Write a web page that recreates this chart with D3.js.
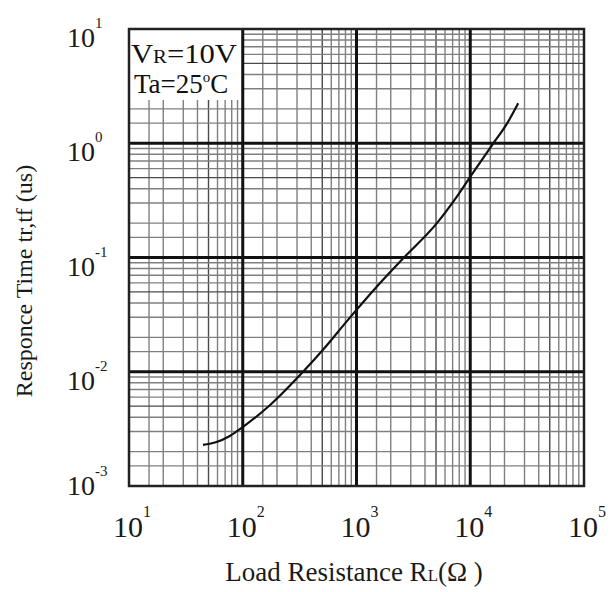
<!DOCTYPE html>
<html>
<head>
<meta charset="utf-8">
<script src="https://cdn.jsdelivr.net/npm/d3@7"></script>
<style>
  html, body { margin: 0; padding: 0; background: #fff; }
  svg { display: block; font-family: "Liberation Serif", "DejaVu Serif", serif; }
</style>
</head>
<body>
<div id="chart"></div>
<script>
// load resistance (ohm) vs response time tr,tf (us)
const loadRes = [44.7, 57, 77, 100, 174, 339, 528, 820, 1506, 2576, 5070, 7600, 10300, 15960, 20900, 26400]
const respTime = [0.00229, 0.00240, 0.00274, 0.00328, 0.00512, 0.0100, 0.0163, 0.0276, 0.0555, 0.0984, 0.199, 0.340, 0.532, 1.0, 1.47, 2.24]

const xDecades = [1, 2, 3, 4, 5]
const yDecades = [-3, -2, -1, 0, 1]
const minorSteps = [1.5, 2, 3, 4, 5, 6, 7, 8, 9]

const width = 614, height = 592
const pLeft = 129, pRight = 584, pTop = 29, pBottom = 486

const svg = d3.select("#chart").append("svg")
    .attr("width", width)
    .attr("height", height)

const x = d3.scaleLog().domain([10, 1e5]).range([pLeft, pRight])
const y = d3.scaleLog().domain([1e-3, 10]).range([pBottom, pTop])

const isFive = d => Math.abs(d / Math.pow(10, Math.floor(Math.log10(d) + 1e-9)) - 5) < 1e-6

// minor grid
const xMinor = [], yMinor = []
xDecades.slice(0, -1).forEach(d => minorSteps.forEach(s => xMinor.push(s * Math.pow(10, d))))
yDecades.slice(0, -1).forEach(d => minorSteps.forEach(s => yMinor.push(s * Math.pow(10, d))))

const grid = svg.append("g")
grid.selectAll(".vx").data(xMinor).enter().append("line")
    .attr("x1", d => x(d)).attr("x2", d => x(d))
    .attr("y1", pTop).attr("y2", pBottom)
    .attr("stroke", d => isFive(d) ? "#4a4a4a" : "#808080")
    .attr("stroke-width", 1.4)
grid.selectAll(".hy").data(yMinor).enter().append("line")
    .attr("y1", d => y(d)).attr("y2", d => y(d))
    .attr("x1", pLeft).attr("x2", pRight)
    .attr("stroke", d => isFive(d) ? "#4a4a4a" : "#808080")
    .attr("stroke-width", 1.4)

// white box behind conditions text
svg.append("rect")
    .attr("x", pLeft).attr("y", pTop)
    .attr("width", x(100) - pLeft).attr("height", 71)
    .attr("fill", "#fff")

// major grid
const xMajor = xDecades.slice(1, -1).map(d => Math.pow(10, d))
const yMajor = yDecades.slice(1, -1).map(d => Math.pow(10, d))
svg.selectAll(".mx").data(xMajor).enter().append("line")
    .attr("x1", d => x(d)).attr("x2", d => x(d))
    .attr("y1", pTop).attr("y2", pBottom)
    .attr("stroke", "#111").attr("stroke-width", 3)
svg.selectAll(".my").data(yMajor).enter().append("line")
    .attr("y1", d => y(d)).attr("y2", d => y(d))
    .attr("x1", pLeft).attr("x2", pRight)
    .attr("stroke", "#111").attr("stroke-width", 3)

// frame
svg.append("rect")
    .attr("x", pLeft).attr("y", pTop)
    .attr("width", pRight - pLeft).attr("height", pBottom - pTop)
    .attr("fill", "none").attr("stroke", "#222").attr("stroke-width", 2.5)

// curve
const line = d3.line()
    .x((d, i) => x(loadRes[i]))
    .y((d, i) => y(respTime[i]))
    .curve(d3.curveMonotoneX)
svg.append("path")
    .datum(loadRes)
    .attr("d", line)
    .attr("fill", "none")
    .attr("stroke", "#111")
    .attr("stroke-width", 2.2)

// conditions
const cond1 = svg.append("text").attr("x", 131).attr("y", 63).attr("font-size", 28).attr("fill", "#111")
    .attr("textLength", 106).attr("lengthAdjust", "spacingAndGlyphs")
cond1.append("tspan").text("V")
cond1.append("tspan").attr("font-size", 19).text("R")
cond1.append("tspan").text("=10V")
const cond2 = svg.append("text").attr("x", 134).attr("y", 93).attr("font-size", 27).attr("fill", "#111")
cond2.append("tspan").text("Ta=25")
cond2.append("tspan").attr("font-size", 15).attr("dy", -11).text("o")
cond2.append("tspan").attr("dy", 11).text("C")

// x tick labels
xDecades.forEach(d => {
    const t = svg.append("text")
        .attr("x", x(Math.pow(10, d)) - 16).attr("y", 537)
        .attr("font-size", 30).attr("fill", "#1a1a1a")
    t.append("tspan").text("10")
    t.append("tspan").attr("font-size", 16).attr("dy", -20).text(d)
})

// y tick labels
yDecades.forEach(d => {
    const off = d === -3 ? 9 : 18
    const t = svg.append("text")
        .attr("x", 67).attr("y", y(Math.pow(10, d)) + off)
        .attr("font-size", 28).attr("fill", "#1a1a1a")
    t.append("tspan").text("10")
    t.append("tspan").attr("font-size", 15).attr("dy", -19).text(d < 0 ? "-" + (-d) : d)
})

// axis titles
svg.append("text")
    .attr("transform", "translate(32," + 281 + ") rotate(-90)")
    .attr("text-anchor", "middle")
    .attr("font-size", 24).attr("fill", "#1a1a1a")
    .text("Responce Time tr,tf (us)")

const xt = svg.append("text")
    .attr("x", 354).attr("y", 581)
    .attr("text-anchor", "middle")
    .attr("font-size", 27).attr("fill", "#1a1a1a")
xt.append("tspan").text("Load Resistance R")
xt.append("tspan").attr("font-size", 17).text("L")
xt.append("tspan").text("(\u03A9 )")
</script>
</body>
</html>
